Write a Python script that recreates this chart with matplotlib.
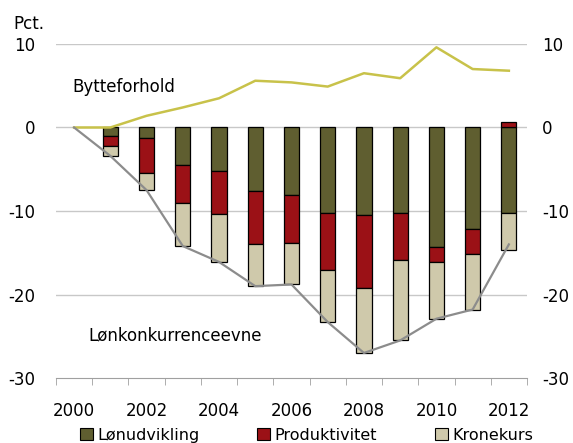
import numpy as np
import matplotlib.pyplot as plt
from matplotlib.patches import Patch

# Data (pct.)
years = list(range(2000, 2013))
lonudvikling = [0, -1.0, -1.3, -4.5, -5.2, -7.6, -8.1, -10.2, -10.5, -10.2, -14.3, -12.1, -10.2]
produktivitet = [0, -1.2, -4.1, -4.5, -5.1, -6.3, -5.7, -6.9, -8.7, -5.7, -1.8, -3.1, 0.7]
kronekurs = [0, -1.2, -2.1, -5.2, -5.8, -5.1, -5.0, -6.2, -7.8, -9.6, -6.8, -6.6, -4.5]
lonkonkurrenceevne = [0, -3.4, -7.5, -14.2, -16.1, -19.0, -18.8, -23.3, -27.0, -25.5, -22.9, -21.8, -14.0]
bytteforhold = [0, 0.0, 1.4, 2.4, 3.5, 5.6, 5.4, 4.9, 6.5, 5.9, 9.6, 7.0, 6.8]
ytick_vals = [10, 0, -10, -20, -30]

c_lon = '#5f5e30'
c_prod = '#9b1116'
c_kron = '#cfc9ab'

plt.rcParams['font.family'] = 'DejaVu Sans'
fig = plt.figure(figsize=(5.73, 4.43), dpi=100)
ax = fig.add_axes([0.0977, 0.1467, 0.822, 0.754])

x = np.arange(len(years))
w = 0.42

# stack negatives downward, positives upward; skip empty bars
pos_base = np.zeros(len(x))
neg_base = np.zeros(len(x))
for vals, col in [(lonudvikling, c_lon), (produktivitet, c_prod), (kronekurs, c_kron)]:
    v = np.array(vals, dtype=float)
    bottoms = np.where(v >= 0, pos_base, neg_base)
    shown = v != 0
    ax.bar(x[shown], v[shown], w, bottom=bottoms[shown], color=col,
           edgecolor='black', linewidth=0.9, zorder=3)
    pos_base = pos_base + np.where(v >= 0, v, 0)
    neg_base = neg_base + np.where(v < 0, v, 0)

ax.plot(x, bytteforhold, color='#c8c24a', linewidth=1.8, zorder=4)
ax.plot(x, lonkonkurrenceevne, color='#8c8c8c', linewidth=1.6, zorder=4)

ax.text(-0.05, 4.8, 'Bytteforhold', fontsize=12, ha='left', va='center')
ax.text(0.4, -24.9, 'Lønkonkurrenceevne', fontsize=12, ha='left', va='center')

ax.set_xlim(-0.5, 12.5)
ax.set_ylim(-30, 10)
ax.set_yticks(ytick_vals)
ax.set_yticklabels([str(v) for v in ytick_vals])
for yv in ytick_vals[:-1]:
    ax.axhline(yv, color='#c8c8c8', linewidth=1.0, zorder=1)

ax.set_xticks(x[::2])
ax.set_xticklabels([str(y) for y in years[::2]])
ax.set_xticks(np.arange(-0.5, 13, 1.0), minor=True)
ax.tick_params(axis='x', which='major', length=0, pad=17, labelsize=12)
ax.tick_params(axis='x', which='minor', length=5, color='#a0a0a0', direction='out')
ax.tick_params(axis='y', length=0, pad=15, labelsize=12)

for s in ['top', 'left', 'right']:
    ax.spines[s].set_visible(False)
ax.spines['bottom'].set_color('#a0a0a0')

ax2 = ax.twinx()
ax2.set_ylim(-30, 10)
ax2.set_yticks(ytick_vals)
ax2.set_yticklabels([str(v) for v in ytick_vals])
ax2.tick_params(axis='y', length=0, pad=11, labelsize=12)
for s in ax2.spines.values():
    s.set_visible(False)

fig.text(0.023, 0.945, 'Pct.', fontsize=12, ha='left', va='center')

handles = [Patch(facecolor=c_lon, edgecolor='black', linewidth=0.8),
           Patch(facecolor=c_prod, edgecolor='black', linewidth=0.8),
           Patch(facecolor=c_kron, edgecolor='black', linewidth=0.8)]
fig.legend(handles, ['Lønudvikling', 'Produktivitet', 'Kronekurs'], loc='center',
           bbox_to_anchor=(0.535, 0.018), ncol=3, frameon=False, fontsize=11.5,
           handlelength=0.8, handleheight=0.8, handletextpad=0.3, columnspacing=3.6)

fig.savefig('out.png', dpi=100)
